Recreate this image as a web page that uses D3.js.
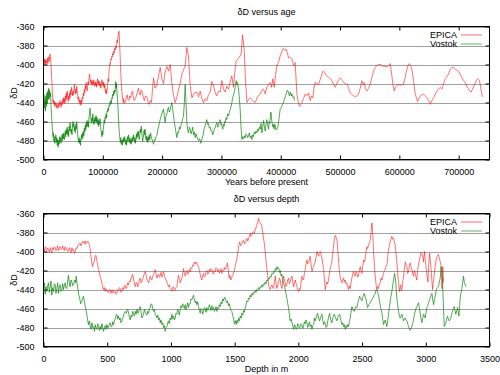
<!DOCTYPE html>
<html>
<head>
<meta charset="utf-8">
<script src="https://cdn.jsdelivr.net/npm/d3@7"></script>
<style>
  body { margin: 0; background: #fff; }
  svg text { font-family: "Liberation Sans", Arial, sans-serif; font-size: 9px; fill: #000; }
</style>
</head>
<body>
<script>
// series names and tick values
var seriesNames = ["EPICA", "Vostok"];
var yTicks = [-360, -380, -400, -420, -440, -460, -480, -500];
var ageTicks = [0, 100000, 200000, 300000, 400000, 500000, 600000, 700000];
var depthTicks = [0, 500, 1000, 1500, 2000, 2500, 3000, 3500];

// δD versus age (years before present, δD)
var epicaAge = [[0,-396],[800,-400],[1600,-394],[2400,-399],[3200,-395],[4000,-401],[4800,-396],[5600,-398],[6400,-393],[7200,-399],[8000,-395],[8800,-392],[9600,-397],[10400,-391],[11200,-389],[12000,-395],[12800,-401],[13600,-412],[14400,-422],[15200,-432],[16000,-440],[16800,-437],[17600,-442],[18400,-439],[19200,-444],[20000,-440],[20800,-443],[21600,-446],[22400,-441],[23200,-444],[24000,-446],[24800,-442],[25600,-445],[26400,-440],[27200,-443],[28000,-438],[28800,-442],[29600,-445],[30400,-440],[31200,-443],[32000,-437],[32800,-441],[33600,-435],[34400,-440],[35200,-436],[36000,-441],[36800,-433],[37600,-438],[38400,-430],[39200,-436],[40000,-428],[40800,-434],[41600,-439],[42400,-433],[43200,-437],[44000,-430],[44800,-435],[45600,-427],[46400,-432],[47200,-424],[48000,-429],[48800,-433],[49600,-428],[50400,-432],[51200,-425],[52000,-421],[52800,-427],[53600,-431],[54400,-426],[55200,-430],[56000,-423],[56800,-428],[57600,-433],[58400,-437],[59200,-434],[60000,-440],[60800,-437],[61600,-442],[62400,-438],[63200,-443],[64000,-437],[64800,-440],[65600,-434],[66400,-436],[67200,-430],[68000,-433],[68800,-426],[69600,-430],[70400,-422],[71200,-426],[72000,-419],[72800,-424],[73600,-428],[74400,-423],[75200,-418],[76000,-421],[76800,-414],[77600,-410],[78400,-415],[79200,-419],[80000,-416],[80800,-421],[81600,-417],[82400,-422],[83200,-418],[84000,-421],[84800,-416],[85600,-420],[86400,-423],[87200,-418],[88000,-422],[88800,-419],[89600,-424],[90400,-419],[91200,-415],[92000,-420],[92800,-417],[93600,-422],[94400,-418],[95200,-423],[96000,-420],[96800,-425],[97600,-419],[98400,-416],[99200,-421],[100000,-418],[100800,-423],[101600,-419],[102400,-425],[103200,-421],[104000,-427],[104800,-430],[105600,-426],[106400,-431],[107200,-428],[108000,-422],[108800,-415],[109600,-418],[110400,-408],[111200,-403],[112000,-399],[112800,-400],[113600,-394],[114400,-395],[115200,-391],[116000,-392],[116800,-388],[117600,-390],[118400,-386],[119200,-388],[120000,-383],[120800,-385],[121600,-381],[122400,-383],[123200,-378],[124000,-374],[124800,-377],[125600,-372],[126400,-368],[127200,-365],[128000,-373],[128800,-384],[129600,-397],[130400,-410],[131200,-420],[132000,-428],[132800,-433],[133600,-437],[134400,-440],[135200,-436],[136000,-441],[138000,-440],[139500,-435],[141000,-432],[142500,-437],[144000,-438],[145500,-433],[147000,-435],[148500,-430],[150000,-428],[151500,-434],[153000,-438],[155000,-436],[157000,-432],[158500,-428],[160000,-425],[161500,-430],[163000,-432],[164500,-427],[166000,-428],[168000,-434],[170000,-438],[172000,-433],[174000,-434],[176000,-439],[178000,-442],[180000,-438],[182000,-440],[184000,-425],[185500,-414],[188000,-425],[191100,-422],[194000,-412],[196800,-403],[199500,-415],[202400,-420],[205000,-408],[208000,-402],[210800,-407],[213600,-400],[216400,-419],[219000,-432],[222000,-440],[225000,-434],[227700,-426],[230500,-420],[233300,-410],[236000,-406],[238900,-401],[241700,-382],[244500,-391],[247300,-422],[250200,-435],[254000,-430],[258600,-429],[261500,-434],[264200,-428],[267000,-436],[269800,-440],[272500,-436],[275400,-438],[278000,-432],[281100,-429],[284000,-418],[286700,-422],[289500,-430],[292300,-433],[295000,-428],[297900,-429],[300700,-417],[303500,-426],[306400,-429],[309000,-423],[312000,-426],[314800,-418],[317600,-412],[320400,-424],[322500,-408],[324900,-396],[328000,-394],[331600,-391],[333500,-388],[335600,-369],[338400,-384],[340500,-415],[342900,-440],[345500,-437],[348500,-435],[352500,-438],[357000,-440],[361000,-434],[365400,-431],[368200,-427],[371000,-426],[373800,-431],[376600,-424],[379400,-421],[382300,-419],[384500,-424],[386800,-415],[389000,-424],[391200,-412],[393500,-401],[396300,-398],[399100,-391],[401900,-386],[404700,-383],[407000,-385],[409200,-384],[411200,-388],[413200,-393],[416000,-392],[418800,-394],[421600,-401],[424400,-398],[427200,-431],[429500,-440],[431700,-444],[435700,-440],[438500,-436],[441300,-431],[444000,-433],[446900,-430],[449700,-438],[452000,-433],[454200,-435],[456000,-425],[458100,-419],[461000,-420],[463800,-421],[467500,-414],[471000,-407],[474500,-409],[477800,-412],[482000,-414],[486200,-417],[489000,-421],[491900,-424],[496000,-418],[500300,-414],[503000,-416],[505900,-419],[509000,-420],[512600,-421],[515000,-426],[517100,-430],[521000,-432],[525600,-434],[528500,-433],[531200,-431],[534000,-425],[536800,-417],[538800,-421],[540800,-419],[543000,-426],[545200,-428],[548000,-425],[550900,-421],[553500,-414],[556500,-407],[559300,-403],[562100,-401],[565000,-400],[567800,-400],[570500,-401],[573400,-402],[576200,-402],[579000,-403],[581800,-401],[584600,-399],[587400,-412],[589500,-422],[591400,-428],[593500,-424],[595900,-422],[598500,-421],[601500,-422],[604500,-421],[607100,-421],[610000,-413],[612700,-405],[614700,-401],[616700,-399],[619000,-401],[621200,-405],[624000,-417],[626800,-431],[630700,-439],[633000,-436],[635200,-433],[638000,-432],[640800,-431],[643500,-433],[646400,-435],[649500,-438],[652100,-442],[655000,-438],[657700,-435],[660500,-431],[663300,-428],[666000,-426],[668900,-424],[671700,-426],[674500,-420],[677400,-415],[680000,-413],[683000,-410],[686000,-405],[688600,-403],[691500,-403],[694200,-405],[697000,-406],[699800,-407],[702500,-410],[705500,-414],[708500,-417],[711100,-419],[714000,-423],[716700,-426],[719000,-428],[721200,-429],[724000,-425],[726800,-421],[729500,-417],[731900,-415],[735200,-417],[738000,-428],[740300,-434]];

var vostokAge = [[0,-440],[800,-432],[1600,-446],[2400,-436],[3200,-449],[4000,-433],[4800,-444],[5600,-430],[6400,-441],[7200,-428],[8000,-437],[8800,-425],[9600,-436],[10400,-427],[11200,-434],[12000,-430],[12800,-445],[13600,-455],[14400,-462],[15200,-470],[16000,-476],[16800,-472],[17600,-481],[18400,-476],[19200,-483],[20000,-478],[20800,-474],[21600,-482],[22400,-477],[23200,-485],[24000,-479],[24800,-487],[25600,-480],[26400,-484],[27200,-476],[28000,-481],[28800,-477],[29600,-483],[30400,-478],[31200,-474],[32000,-480],[32800,-473],[33600,-478],[34400,-472],[35200,-479],[36000,-475],[36800,-470],[37600,-476],[38400,-468],[39200,-473],[40000,-466],[40800,-474],[41600,-469],[42400,-476],[43200,-465],[44000,-470],[44800,-461],[45600,-467],[46400,-472],[47200,-468],[48000,-474],[48800,-466],[49600,-460],[50400,-466],[51200,-462],[52000,-470],[52800,-466],[53600,-472],[54400,-463],[55200,-468],[56000,-460],[56800,-467],[57600,-474],[58400,-478],[59200,-482],[60000,-477],[60800,-483],[61600,-479],[62400,-485],[63200,-478],[64000,-474],[64800,-479],[65600,-472],[66400,-477],[67200,-470],[68000,-475],[68800,-467],[69600,-471],[70400,-464],[71200,-469],[72000,-461],[72800,-466],[73600,-459],[74400,-465],[75200,-460],[76000,-466],[76800,-455],[77600,-452],[78400,-446],[79200,-452],[80000,-458],[80800,-462],[81600,-456],[82400,-460],[83200,-452],[84000,-458],[84800,-463],[85600,-457],[86400,-462],[87200,-455],[88000,-460],[88800,-454],[89600,-461],[90400,-456],[91200,-463],[92000,-458],[92800,-465],[93600,-459],[94400,-463],[95200,-457],[96000,-462],[96800,-468],[97600,-472],[98400,-476],[99200,-470],[100000,-474],[100800,-468],[101600,-463],[102400,-458],[103200,-462],[104000,-455],[104800,-457],[105600,-452],[106400,-456],[107200,-449],[108000,-450],[108800,-446],[109600,-449],[110400,-443],[111200,-444],[112000,-440],[112800,-442],[113600,-438],[114400,-441],[115200,-435],[116000,-436],[116800,-431],[117600,-433],[118400,-428],[119200,-431],[120000,-427],[120800,-429],[121600,-418],[122400,-425],[123200,-420],[124000,-430],[124800,-436],[125600,-445],[126400,-456],[127200,-466],[128000,-473],[128800,-478],[129600,-482],[130400,-477],[131200,-484],[132000,-480],[132800,-485],[133600,-479],[134400,-482],[135200,-477],[136000,-481],[136800,-476],[137600,-480],[138400,-484],[139200,-479],[140000,-485],[140800,-480],[141600,-476],[142400,-481],[143200,-474],[144000,-479],[144800,-482],[145600,-477],[146400,-483],[147200,-479],[148000,-484],[148800,-478],[149600,-481],[150400,-476],[151200,-480],[152000,-474],[152800,-478],[153600,-482],[154400,-477],[155200,-483],[156000,-478],[156800,-473],[157600,-478],[158400,-471],[159200,-476],[160000,-470],[160800,-475],[161600,-479],[162400,-474],[163200,-468],[164000,-472],[164800,-465],[165600,-470],[166400,-476],[167200,-481],[168000,-478],[168800,-474],[169600,-469],[170400,-474],[171200,-468],[172000,-473],[172800,-479],[173600,-475],[174400,-481],[175200,-477],[176000,-482],[176800,-476],[177600,-480],[178400,-474],[179200,-479],[180400,-472],[182500,-478],[184000,-481],[185500,-484],[187000,-479],[188000,-480],[189500,-476],[191100,-475],[192500,-469],[194000,-466],[195500,-461],[196800,-458],[198000,-455],[199500,-452],[201000,-449],[202400,-447],[203800,-455],[205200,-461],[206500,-454],[208000,-452],[209500,-447],[210800,-445],[212000,-450],[213500,-448],[215000,-443],[216400,-440],[217800,-447],[219200,-454],[220500,-460],[222000,-466],[223500,-472],[224900,-477],[226300,-471],[227700,-472],[229000,-466],[230500,-468],[232000,-463],[233300,-461],[234700,-457],[236100,-454],[237500,-440],[238900,-421],[240300,-440],[241700,-461],[243000,-468],[244500,-472],[245800,-466],[247300,-468],[248700,-473],[250200,-470],[251500,-466],[253000,-474],[254400,-471],[255800,-477],[257200,-473],[258600,-476],[260000,-479],[261400,-480],[263300,-478],[265300,-483],[266500,-480],[267500,-478],[268700,-475],[269800,-472],[271000,-467],[272500,-465],[274000,-461],[275400,-458],[276800,-463],[278200,-462],[279600,-467],[281100,-466],[282500,-470],[284000,-470],[285300,-474],[286700,-472],[288000,-468],[289500,-466],[291000,-463],[292300,-461],[293700,-466],[295000,-464],[296500,-460],[297900,-458],[299000,-463],[300000,-462],[301200,-466],[302400,-468],[303500,-463],[304500,-465],[305500,-460],[306400,-461],[307700,-456],[309000,-458],[310500,-452],[312000,-454],[313500,-450],[315000,-447],[316300,-444],[317600,-440],[319000,-435],[320500,-432],[322000,-428],[323200,-424],[324100,-420],[324900,-417],[326000,-421],[327100,-419],[328300,-424],[329500,-430],[330500,-438],[331600,-447],[333000,-465],[334500,-479],[336000,-476],[337500,-478],[338800,-475],[340100,-477],[341500,-473],[343000,-474],[344300,-477],[345700,-475],[347000,-472],[348500,-477],[350000,-475],[351300,-479],[352500,-474],[354000,-476],[355500,-471],[356900,-473],[358300,-470],[359800,-472],[361200,-468],[362600,-470],[364000,-466],[365400,-468],[366800,-462],[368200,-472],[369600,-466],[371000,-459],[372400,-465],[373800,-470],[375200,-463],[376600,-458],[378000,-463],[379400,-468],[380500,-460],[381500,-462],[382500,-455],[383400,-450],[385000,-460],[386800,-466],[388000,-463],[389000,-468],[390000,-463],[391000,-466],[392200,-469],[393500,-468],[395000,-466],[396300,-461],[397700,-454],[399100,-447],[400500,-446],[402000,-444],[403300,-442],[404700,-440],[406000,-437],[407000,-435],[408100,-433],[409200,-431],[410300,-428],[411500,-427],[413200,-430],[414900,-433],[415800,-429],[416800,-430],[417800,-433],[418800,-431],[420000,-433],[421000,-435],[422200,-434],[423300,-438]];

// δD versus depth (metres, δD)
var epicaDepth = [[0,-397],[7,-400],[13,-395],[20,-398],[26,-399],[33,-396],[39,-398],[46,-401],[52,-396],[59,-399],[65,-401],[72,-396],[79,-398],[85,-395],[92,-396],[98,-399],[105,-397],[111,-394],[118,-399],[124,-396],[131,-395],[137,-398],[144,-397],[150,-394],[157,-397],[163,-399],[170,-395],[176,-398],[183,-397],[190,-400],[196,-399],[203,-396],[209,-398],[216,-401],[223,-396],[229,-399],[236,-398],[242,-402],[249,-400],[255,-396],[262,-397],[268,-394],[275,-394],[281,-392],[288,-391],[294,-394],[301,-392],[307,-389],[314,-390],[320,-392],[327,-389],[334,-392],[340,-391],[346,-389],[352,-390],[357,-392],[361,-393],[366,-398],[372,-404],[378,-411],[385,-416],[391,-412],[398,-411],[404,-405],[411,-404],[417,-408],[424,-414],[432,-419],[440,-423],[446,-427],[453,-430],[462,-436],[471,-440],[478,-438],[484,-442],[490,-439],[497,-441],[504,-443],[510,-443],[517,-440],[524,-442],[530,-444],[537,-440],[543,-443],[550,-444],[556,-441],[563,-442],[569,-445],[576,-444],[582,-440],[589,-441],[595,-438],[602,-439],[608,-443],[615,-442],[621,-438],[628,-440],[634,-436],[641,-436],[647,-439],[654,-437],[660,-433],[667,-435],[674,-431],[681,-432],[686,-428],[692,-428],[697,-424],[702,-425],[707,-430],[711,-431],[716,-435],[720,-437],[727,-433],[733,-433],[740,-437],[746,-435],[752,-430],[759,-428],[766,-433],[772,-432],[779,-429],[785,-426],[792,-423],[798,-421],[805,-425],[812,-430],[818,-431],[825,-433],[831,-429],[838,-426],[844,-429],[851,-430],[857,-426],[864,-424],[871,-421],[877,-419],[884,-423],[890,-428],[897,-425],[903,-424],[910,-427],[916,-425],[922,-422],[929,-427],[936,-424],[942,-421],[948,-425],[955,-428],[962,-430],[968,-432],[975,-435],[981,-437],[987,-435],[994,-439],[1001,-440],[1008,-442],[1014,-438],[1021,-437],[1027,-441],[1034,-440],[1040,-438],[1047,-437],[1053,-430],[1060,-425],[1066,-429],[1073,-433],[1079,-431],[1086,-428],[1092,-423],[1099,-418],[1105,-422],[1112,-426],[1118,-423],[1125,-420],[1131,-424],[1138,-423],[1144,-419],[1151,-421],[1157,-417],[1164,-418],[1171,-414],[1178,-415],[1184,-411],[1191,-413],[1199,-411],[1208,-414],[1217,-416],[1223,-420],[1230,-424],[1236,-428],[1243,-430],[1249,-425],[1256,-423],[1262,-427],[1269,-426],[1275,-422],[1282,-420],[1288,-424],[1295,-423],[1301,-419],[1308,-421],[1314,-418],[1321,-419],[1328,-422],[1335,-424],[1341,-420],[1348,-421],[1354,-417],[1361,-418],[1367,-421],[1374,-419],[1380,-423],[1387,-421],[1393,-418],[1400,-423],[1406,-420],[1413,-420],[1419,-417],[1426,-419],[1435,-416],[1444,-412],[1450,-420],[1457,-428],[1463,-425],[1470,-430],[1478,-427],[1486,-425],[1495,-421],[1505,-416],[1511,-411],[1518,-407],[1523,-402],[1529,-398],[1534,-393],[1539,-390],[1547,-394],[1555,-392],[1562,-389],[1570,-388],[1576,-392],[1583,-390],[1590,-388],[1596,-386],[1603,-389],[1609,-387],[1615,-384],[1622,-381],[1628,-384],[1635,-383],[1641,-380],[1648,-379],[1654,-381],[1660,-378],[1665,-376],[1669,-374],[1675,-372],[1680,-370],[1684,-367],[1688,-365],[1694,-368],[1701,-370],[1707,-371],[1714,-374],[1720,-380],[1727,-386],[1733,-392],[1740,-400],[1746,-410],[1753,-418],[1760,-427],[1766,-435],[1772,-438],[1779,-440],[1786,-437],[1793,-435],[1799,-438],[1806,-439],[1812,-432],[1819,-426],[1825,-433],[1832,-439],[1838,-435],[1845,-433],[1851,-428],[1858,-430],[1864,-436],[1871,-439],[1877,-432],[1884,-426],[1890,-430],[1897,-433],[1903,-437],[1910,-435],[1916,-430],[1923,-428],[1930,-434],[1936,-432],[1943,-428],[1950,-426],[1956,-432],[1963,-437],[1969,-433],[1976,-430],[1982,-434],[1989,-437],[1995,-440],[2002,-442],[2008,-439],[2015,-440],[2021,-433],[2028,-426],[2034,-429],[2041,-430],[2047,-423],[2054,-419],[2060,-413],[2067,-409],[2073,-413],[2080,-412],[2086,-408],[2093,-405],[2100,-414],[2107,-421],[2113,-418],[2120,-416],[2126,-413],[2133,-411],[2140,-405],[2146,-400],[2152,-403],[2159,-405],[2165,-402],[2172,-400],[2178,-403],[2185,-407],[2191,-412],[2198,-418],[2204,-429],[2211,-440],[2217,-436],[2224,-432],[2230,-434],[2237,-430],[2243,-424],[2250,-418],[2256,-415],[2263,-411],[2270,-402],[2277,-393],[2283,-387],[2290,-383],[2296,-385],[2303,-388],[2310,-400],[2316,-411],[2322,-420],[2329,-428],[2335,-431],[2342,-433],[2348,-430],[2355,-428],[2361,-432],[2368,-430],[2374,-434],[2381,-433],[2387,-437],[2394,-440],[2400,-436],[2407,-439],[2413,-433],[2420,-428],[2426,-424],[2433,-421],[2440,-425],[2447,-426],[2453,-421],[2460,-423],[2466,-427],[2473,-425],[2479,-419],[2486,-416],[2492,-420],[2499,-423],[2505,-415],[2512,-409],[2518,-411],[2525,-407],[2531,-400],[2538,-395],[2544,-397],[2551,-393],[2557,-391],[2564,-388],[2570,-381],[2577,-370],[2581,-376],[2585,-383],[2590,-400],[2596,-413],[2603,-425],[2609,-434],[2616,-440],[2622,-437],[2629,-439],[2635,-435],[2642,-433],[2649,-428],[2656,-430],[2662,-426],[2669,-423],[2675,-420],[2682,-419],[2688,-416],[2695,-414],[2701,-406],[2708,-398],[2714,-394],[2721,-390],[2727,-387],[2734,-384],[2740,-387],[2747,-386],[2753,-390],[2760,-393],[2766,-401],[2773,-411],[2779,-422],[2786,-433],[2790,-438],[2794,-442],[2800,-436],[2805,-435],[2809,-441],[2813,-439],[2819,-432],[2826,-426],[2832,-418],[2839,-411],[2845,-414],[2852,-416],[2858,-423],[2865,-421],[2871,-415],[2878,-412],[2884,-416],[2891,-419],[2897,-423],[2904,-426],[2910,-420],[2917,-423],[2923,-427],[2930,-430],[2936,-420],[2943,-414],[2949,-409],[2956,-405],[2962,-401],[2969,-402],[2976,-405],[2983,-411],[2986,-404],[2990,-400],[2996,-409],[3003,-418],[3010,-426],[3017,-432],[3023,-415],[3030,-402],[3036,-410],[3043,-421],[3048,-431],[3053,-440],[3060,-431],[3066,-425],[3072,-417],[3079,-411],[3085,-406],[3092,-405],[3099,-403],[3106,-407],[3112,-410],[3119,-414],[3123,-427],[3127,-439],[3131,-425],[3134,-416],[3137,-426],[3140,-433]];

var vostokDepth = [[0,-439],[7,-433],[13,-445],[20,-437],[26,-442],[33,-436],[39,-433],[46,-443],[52,-437],[59,-431],[65,-446],[72,-438],[79,-442],[85,-434],[92,-435],[98,-444],[105,-439],[111,-433],[118,-444],[124,-437],[131,-435],[137,-442],[144,-441],[150,-434],[157,-440],[163,-436],[170,-433],[176,-438],[183,-439],[190,-431],[196,-425],[203,-433],[209,-437],[216,-430],[223,-432],[229,-436],[236,-435],[242,-431],[247,-430],[252,-433],[257,-426],[263,-433],[270,-439],[276,-445],[283,-449],[292,-455],[301,-452],[307,-449],[314,-447],[320,-452],[327,-458],[334,-462],[340,-466],[346,-472],[353,-477],[360,-473],[367,-479],[373,-482],[380,-475],[386,-480],[393,-479],[400,-484],[406,-477],[413,-481],[419,-482],[425,-476],[432,-478],[438,-483],[445,-479],[451,-482],[458,-476],[465,-481],[471,-484],[478,-480],[484,-478],[490,-482],[497,-477],[504,-481],[510,-480],[517,-476],[524,-475],[530,-479],[537,-479],[543,-474],[550,-477],[556,-473],[563,-471],[569,-467],[576,-466],[582,-471],[589,-468],[595,-472],[602,-470],[608,-475],[615,-473],[621,-470],[628,-468],[634,-465],[641,-463],[650,-465],[660,-461],[665,-463],[670,-466],[675,-470],[681,-472],[688,-467],[694,-469],[700,-463],[707,-466],[714,-468],[720,-463],[727,-466],[733,-461],[740,-465],[746,-464],[752,-460],[759,-458],[766,-464],[772,-470],[779,-468],[785,-466],[792,-461],[798,-463],[805,-466],[812,-467],[818,-463],[825,-465],[831,-460],[838,-459],[844,-455],[851,-456],[857,-460],[864,-463],[871,-461],[877,-466],[884,-468],[890,-470],[897,-467],[903,-472],[910,-470],[916,-475],[922,-472],[929,-477],[936,-475],[942,-480],[948,-478],[955,-484],[962,-480],[968,-479],[975,-475],[981,-473],[987,-476],[994,-470],[1001,-472],[1008,-466],[1014,-471],[1021,-468],[1027,-472],[1034,-470],[1040,-465],[1047,-466],[1053,-461],[1060,-463],[1066,-467],[1073,-461],[1079,-457],[1086,-459],[1092,-455],[1099,-457],[1105,-460],[1112,-456],[1118,-461],[1125,-458],[1131,-454],[1138,-459],[1144,-455],[1151,-455],[1157,-450],[1164,-451],[1171,-448],[1178,-446],[1184,-451],[1191,-454],[1197,-452],[1204,-456],[1210,-453],[1217,-458],[1223,-462],[1230,-465],[1236,-460],[1243,-461],[1249,-466],[1256,-463],[1262,-459],[1269,-460],[1275,-464],[1282,-459],[1288,-462],[1295,-461],[1301,-456],[1308,-459],[1314,-462],[1321,-457],[1328,-461],[1335,-459],[1341,-463],[1348,-461],[1354,-458],[1361,-463],[1367,-459],[1374,-460],[1380,-456],[1387,-458],[1393,-453],[1400,-455],[1406,-450],[1413,-452],[1419,-448],[1426,-449],[1432,-452],[1439,-454],[1445,-452],[1452,-457],[1458,-455],[1465,-459],[1471,-462],[1478,-463],[1484,-467],[1491,-470],[1498,-476],[1505,-473],[1512,-477],[1518,-472],[1525,-475],[1531,-470],[1538,-473],[1544,-468],[1551,-470],[1557,-465],[1564,-467],[1570,-462],[1577,-464],[1583,-459],[1590,-456],[1596,-452],[1603,-453],[1609,-449],[1616,-450],[1622,-446],[1629,-448],[1635,-444],[1642,-446],[1648,-443],[1655,-444],[1661,-441],[1668,-443],[1674,-440],[1681,-441],[1687,-438],[1694,-440],[1701,-437],[1708,-438],[1714,-435],[1721,-437],[1727,-434],[1734,-435],[1740,-432],[1747,-434],[1753,-430],[1760,-431],[1766,-428],[1773,-429],[1779,-426],[1786,-427],[1793,-423],[1800,-424],[1806,-421],[1813,-422],[1819,-418],[1826,-420],[1832,-416],[1839,-418],[1845,-417],[1852,-422],[1858,-420],[1865,-426],[1871,-424],[1878,-431],[1884,-433],[1891,-437],[1897,-440],[1904,-445],[1910,-449],[1917,-455],[1923,-459],[1930,-467],[1936,-473],[1943,-471],[1950,-475],[1956,-478],[1963,-482],[1970,-477],[1976,-479],[1983,-482],[1989,-480],[1996,-476],[2002,-478],[2008,-481],[2015,-479],[2021,-476],[2028,-477],[2034,-481],[2041,-479],[2047,-474],[2054,-476],[2060,-472],[2067,-475],[2074,-480],[2080,-477],[2087,-474],[2093,-479],[2100,-477],[2107,-482],[2113,-478],[2120,-477],[2126,-470],[2133,-473],[2142,-468],[2151,-465],[2159,-470],[2167,-473],[2176,-469],[2185,-466],[2191,-472],[2198,-477],[2205,-474],[2211,-476],[2218,-480],[2224,-479],[2234,-471],[2245,-465],[2254,-472],[2263,-475],[2272,-469],[2282,-466],[2292,-470],[2303,-473],[2313,-468],[2324,-466],[2333,-472],[2342,-477],[2349,-475],[2355,-479],[2361,-477],[2368,-482],[2374,-478],[2381,-480],[2387,-477],[2394,-479],[2400,-474],[2407,-470],[2413,-464],[2420,-458],[2430,-462],[2439,-463],[2450,-458],[2460,-459],[2470,-452],[2481,-447],[2490,-450],[2499,-452],[2508,-447],[2517,-444],[2525,-448],[2533,-451],[2538,-455],[2543,-459],[2553,-456],[2564,-454],[2575,-451],[2585,-449],[2594,-446],[2603,-444],[2609,-441],[2616,-440],[2622,-443],[2629,-446],[2635,-451],[2642,-456],[2649,-461],[2656,-465],[2662,-471],[2669,-477],[2675,-474],[2682,-472],[2688,-476],[2695,-479],[2701,-473],[2708,-466],[2714,-459],[2721,-452],[2727,-447],[2734,-442],[2740,-436],[2747,-430],[2751,-426],[2755,-423],[2759,-426],[2763,-430],[2768,-440],[2773,-449],[2779,-456],[2786,-463],[2792,-467],[2799,-470],[2806,-468],[2813,-466],[2819,-470],[2826,-473],[2832,-471],[2839,-470],[2845,-472],[2852,-473],[2858,-476],[2865,-479],[2871,-481],[2878,-483],[2884,-481],[2891,-479],[2897,-476],[2904,-472],[2910,-467],[2917,-463],[2923,-460],[2930,-458],[2936,-456],[2943,-454],[2949,-459],[2956,-465],[2962,-470],[2969,-475],[2976,-470],[2983,-466],[2989,-468],[2996,-470],[3002,-464],[3009,-459],[3015,-457],[3022,-454],[3028,-451],[3035,-449],[3041,-446],[3048,-444],[3054,-450],[3061,-456],[3067,-451],[3074,-447],[3080,-442],[3087,-439],[3093,-438],[3100,-437],[3106,-432],[3113,-428],[3117,-422],[3121,-416],[3125,-420],[3129,-425],[3133,-438],[3137,-452],[3141,-466],[3145,-479],[3151,-477],[3158,-475],[3164,-471],[3171,-468],[3177,-471],[3184,-473],[3190,-472],[3197,-470],[3203,-466],[3210,-463],[3216,-460],[3223,-458],[3229,-462],[3236,-466],[3243,-462],[3250,-459],[3255,-464],[3260,-468],[3265,-458],[3270,-449],[3276,-444],[3283,-439],[3290,-432],[3296,-426],[3300,-430],[3304,-433],[3310,-435],[3315,-437]];

var colors = ["#ff0000", "#008000"];

var svg = d3.select("body").append("svg")
    .attr("width", 500)
    .attr("height", 375);

function drawPanel(opt) {
    var left = 43.5, right = 489.5;
    var x = d3.scaleLinear().domain(opt.xDomain).range([left, right]);
    var y = d3.scaleLinear().domain([-500, -360]).range([opt.bottom, opt.top]);
    var g = svg.append("g");

    // horizontal grid lines
    g.append("g").selectAll("line").data(yTicks).join("line")
        .attr("x1", left).attr("x2", right)
        .attr("y1", d => Math.round(y(d)) + 0.5).attr("y2", d => Math.round(y(d)) + 0.5)
        .attr("stroke", "#a0a0a0").attr("stroke-width", 1);

    // axes on all four sides, ticks pointing inwards
    g.append("g").attr("transform", "translate(" + left + ",0)")
        .call(d3.axisLeft(y).tickValues(yTicks).tickSize(-4).tickPadding(9).tickFormat(d => String(d)));
    g.append("g").attr("transform", "translate(" + right + ",0)")
        .call(d3.axisRight(y).tickValues(yTicks).tickSize(-4).tickFormat(""));
    g.append("g").attr("transform", "translate(0," + opt.bottom + ")")
        .call(d3.axisBottom(x).tickValues(opt.xTicks).tickSize(-4).tickPadding(9).tickFormat(d => String(d)));
    g.append("g").attr("transform", "translate(0," + opt.top + ")")
        .call(d3.axisTop(x).tickValues(opt.xTicks).tickSize(-4).tickFormat(""));
    g.selectAll(".domain").remove();
    g.selectAll(".tick line").attr("stroke", "#000");
    g.selectAll(".tick text").style("font-size", "9px").attr("fill", "#000");

    // clip region
    var clipId = "clip" + opt.id;
    svg.append("clipPath").attr("id", clipId).append("rect")
        .attr("x", left).attr("y", opt.top).attr("width", right - left).attr("height", opt.bottom - opt.top);

    var line = d3.line().x(d => x(d[0])).y(d => y(d[1]));
    opt.series.forEach(function (s, i) {
        g.append("path").datum(s)
            .attr("clip-path", "url(#" + clipId + ")")
            .attr("fill", "none")
            .attr("stroke", colors[i])
            .attr("stroke-opacity", i === 0 ? 0.7 : 0.85)
            .attr("stroke-width", 0.8)
            .attr("stroke-linejoin", "round")
            .attr("d", line);
    });

    // border
    g.append("rect")
        .attr("x", left).attr("y", opt.top)
        .attr("width", right - left).attr("height", opt.bottom - opt.top)
        .attr("fill", "none").attr("stroke", "#000").attr("stroke-width", 1);

    // legend
    seriesNames.forEach(function (name, i) {
        var ly = opt.top + 8.5 + i * 9;
        g.append("text").attr("x", 457).attr("y", ly + 3)
            .attr("text-anchor", "end").text(name);
        g.append("line").attr("x1", 461).attr("x2", 482)
            .attr("y1", ly).attr("y2", ly)
            .attr("stroke", colors[i]).attr("stroke-opacity", 0.6).attr("stroke-width", 1);
    });

    // titles
    svg.append("text").attr("x", (left + right) / 2).attr("y", opt.top - 12)
        .attr("text-anchor", "middle").text(opt.title);
    svg.append("text").attr("x", (left + right) / 2).attr("y", opt.bottom + 25)
        .attr("text-anchor", "middle").text(opt.xLabel);
    svg.append("text")
        .attr("transform", "translate(17," + ((opt.top + opt.bottom) / 2) + ") rotate(-90)")
        .attr("text-anchor", "middle").text("δD");
}

drawPanel({
    id: 1, top: 26.5, bottom: 159.5,
    xDomain: [0, 752000], xTicks: ageTicks,
    series: [epicaAge, vostokAge],
    title: "δD versus age", xLabel: "Years before present"
});
drawPanel({
    id: 2, top: 213.5, bottom: 346.5,
    xDomain: [0, 3500], xTicks: depthTicks,
    series: [epicaDepth, vostokDepth],
    title: "δD versus depth", xLabel: "Depth in m"
});
</script>
</body>
</html>
